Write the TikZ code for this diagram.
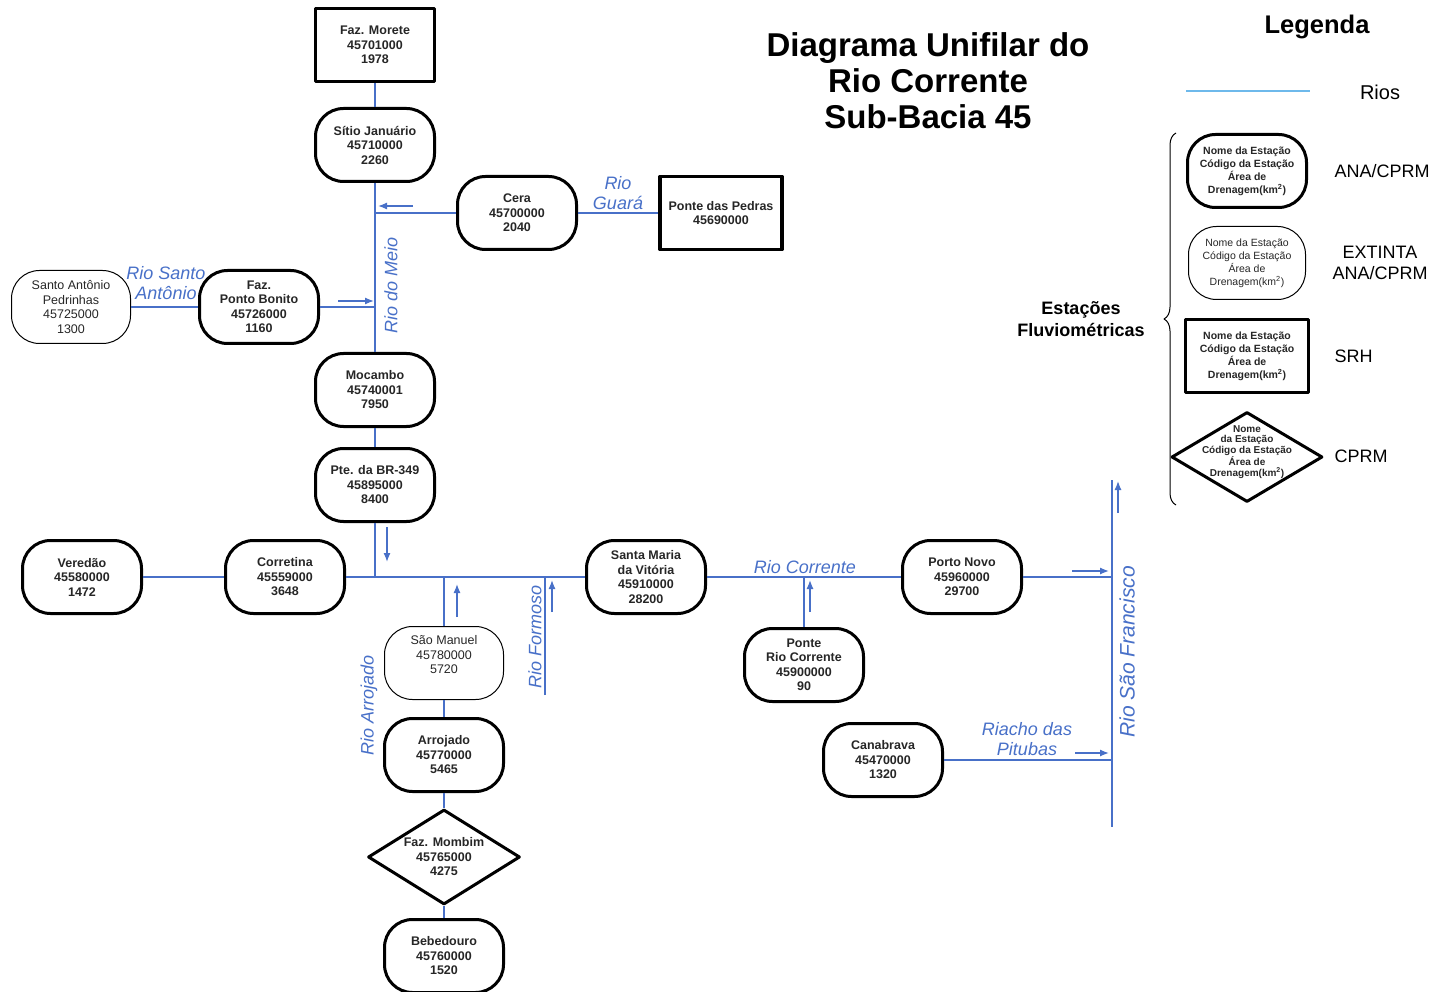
\documentclass[tikz,border=0pt]{standalone}
\usepackage{fontspec}
\setmainfont{Liberation Sans}
\usetikzlibrary{shapes.geometric,arrows.meta,decorations.pathreplacing}
\definecolor{rioazul}{RGB}{72,112,200}
\definecolor{legazul}{RGB}{110,185,235}
\def\txtest{\fontsize{12.5}{14.5}\selectfont}
\def\txtleg{\fontsize{10.5}{13}\selectfont}
\tikzset{
  ana/.style={draw, rounded corners=28pt, minimum width=119pt, minimum height=73pt, inner sep=0pt,
    align=center, line width=3pt, text=black!85, font=\txtest\bfseries},
  extinta/.style={ana, line width=1pt, font=\txtest},
  srh/.style={ana, rounded corners=0pt, line width=3.5pt},
  cprm/.style={draw, diamond, aspect=1.6, minimum width=152pt, minimum height=95pt, inner sep=0pt,
    align=center, line width=3pt, text=black!85, font=\txtest\bfseries},
  rio/.style={draw=rioazul, line width=1.3pt},
  seta/.style={rioazul, line width=1.3pt, -{Latex[length=9pt,width=7pt]}},
  nomerio/.style={text=rioazul, align=center, font=\fontsize{18}{20}\selectfont\itshape},
  legtxt/.style={align=center, font=\fontsize{18}{21}\selectfont}
}
\begin{document}
\begin{tikzpicture}[x=1pt, y=-1pt, line join=round]
\useasboundingbox (0,0) rectangle (1433,992);
\node[srh] (morete) at (375,45) {Faz. Morete\\45701000\\1978};
\node[ana] (sitio) at (375,145) {Sítio Januário\\45710000\\2260};
\node[ana] (cera) at (517,213) {Cera\\45700000\\2040};
\node[srh, minimum width=122pt] (pedras) at (721,213) {Ponte das Pedras\\45690000};
\node[extinta] (pedrinhas) at (71,307) {Santo Antônio\\Pedrinhas\\45725000\\1300};
\node[ana] (bonito) at (259,307) {Faz.\\Ponto Bonito\\45726000\\1160};
\node[ana] (mocambo) at (375,390) {Mocambo\\45740001\\7950};
\node[ana] (br349) at (375,485) {Pte. da BR-349\\45895000\\8400};
\node[ana] (veredao) at (82,577) {Veredão\\45580000\\1472};
\node[ana] (corretina) at (285,577) {Corretina\\45559000\\3648};
\node[ana] (stamaria) at (646,577) {Santa Maria\\da Vitória\\45910000\\28200};
\node[ana] (portonovo) at (962,577) {Porto Novo\\45960000\\29700};
\node[ana] (ponterc) at (804,665) {Ponte\\Rio Corrente\\45900000\\90};
\node[extinta, label={[align=center, text=black!85, font=\txtest, yshift=8pt]center:São Manuel\\45780000\\5720}] (saomanuel) at (444,663) {};
\node[ana] (arrojado) at (444,755) {Arrojado\\45770000\\5465};
\node[cprm] (mombim) at (444,857) {Faz. Mombim\\45765000\\4275};
\node[ana] (bebedouro) at (444,956) {Bebedouro\\45760000\\1520};
\node[ana] (canabrava) at (883,760) {Canabrava\\45470000\\1320};
\coordinate (formoso) at (545,695);
\coordinate (sfcima) at (1112,480);
\coordinate (sfbaixo) at (1112,827);
\draw[rio] (morete) -- (sitio);
\draw[rio] (sitio) -- (mocambo);
\draw[rio] (cera) -- (cera -| sitio);
\draw[rio] (cera) -- (pedras);
\draw[rio] (pedrinhas) -- (bonito);
\draw[rio] (bonito) -- (bonito -| sitio);
\draw[rio] (mocambo) -- (br349);
\draw[rio] (br349) -- (br349 |- corretina);
\draw[rio] (veredao) -- (corretina);
\draw[rio] (corretina) -- (stamaria);
\draw[rio] (saomanuel) -- (saomanuel |- corretina);
\draw[rio] (saomanuel) -- (arrojado);
\draw[rio] (arrojado) -- (mombim);
\draw[rio] (mombim) -- (bebedouro);
\draw[rio] (formoso) -- (formoso |- corretina);
\draw[rio] (stamaria) -- (portonovo);
\draw[rio] (ponterc) -- (ponterc |- portonovo);
\draw[rio] (sfcima) -- (sfbaixo);
\draw[rio] (portonovo) -- (portonovo -| sfcima);
\draw[rio] (canabrava) -- (canabrava -| sfcima);
\draw[seta] (413,206) -- (378,206);
\draw[seta] (338,301) -- (374,301);
\draw[seta] (387,527) -- (387,562);
\draw[seta] (457,617) -- (457,584);
\draw[seta] (552,612) -- (552,580);
\draw[seta] (810,612) -- (810,580);
\draw[seta] (1072,571) -- (1109,571);
\draw[seta] (1075,753) -- (1109,753);
\draw[seta] (1118,513) -- (1118,481);
\node[nomerio] (guara) at (618,193) {Rio\\Guará};
\node[nomerio] (santoantonio) at (166,283) {Rio Santo\\Antônio};
\node[nomerio, rotate=90] (meio) at (391,285) {Rio do Meio};
\node[nomerio, rotate=90] (rarrojado) at (369,705) {Rio Arrojado};
\node[nomerio, rotate=90] (rformoso) at (535,637) {Rio Formoso};
\node[nomerio] (corrente) at (805,567) {Rio Corrente};
\node[nomerio] (pitubas) at (1027,739) {Riacho das\\Pitubas};
\node[nomerio, rotate=90, font=\fontsize{21}{24}\selectfont\itshape] (saofrancisco) at (1127,652) {Rio São Francisco};
\node[align=center, font=\fontsize{33}{36}\selectfont\bfseries] (titulo) at (928,81) {Diagrama Unifilar do\\Rio Corrente\\Sub-Bacia 45};
\node[font=\fontsize{25.5}{28}\selectfont\bfseries] (legenda) at (1317,27) {Legenda};
\coordinate (lrio1) at (1186,91);
\coordinate (lrio2) at (1310,91);
\draw[legazul, line width=1.5pt] (lrio1) -- (lrio2);
\node[legtxt, font=\fontsize{20}{24}\selectfont] (lrios) at (1380,92) {Rios};
\node[ana, font=\txtleg\bfseries] (lana) at (1247,171) {Nome da Estação\\Código da Estação\\Área de\\Drenagem(km\textsuperscript{2})};
\node[extinta, minimum width=117pt, font=\txtleg] (lext) at (1247,263) {Nome da Estação\\Código da Estação\\Área de\\Drenagem(km\textsuperscript{2})};
\node[srh, minimum width=123pt, font=\txtleg\bfseries] (lsrh) at (1247,356) {Nome da Estação\\Código da Estação\\Área de\\Drenagem(km\textsuperscript{2})};
\node[cprm, minimum width=151pt, minimum height=90pt, label={[align=center, text=black!85, font=\fontsize{10}{10.8}\selectfont\bfseries, yshift=5pt]center:Nome\\da Estação\\Código da Estação\\Área de\\Drenagem(km\textsuperscript{2})}] (lcprm) at (1247,457) {};
\node[legtxt, anchor=west] (tana) at (1331,171) {ANA/CPRM};
\node[legtxt] (text) at (1380,263) {EXTINTA\\ANA/CPRM};
\node[legtxt, anchor=west] (tsrh) at (1331,356) {SRH};
\node[legtxt, anchor=west] (tcprm) at (1331,456) {CPRM};
\draw[decorate, decoration={brace, amplitude=12pt}, line width=1pt] (1176,505) -- (1176,133);
\node[align=center, font=\fontsize{18}{22}\selectfont\bfseries] (estacoes) at (1081,319) {Estações\\Fluviométricas};
\end{tikzpicture}
\end{document}
